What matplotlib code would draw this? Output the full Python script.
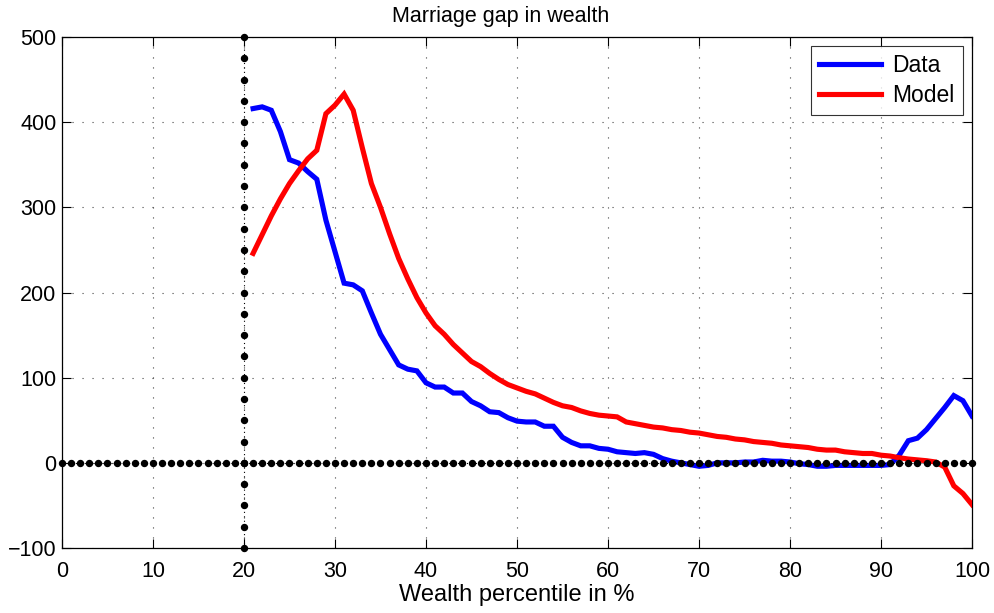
import numpy as np
import matplotlib
matplotlib.use("Agg")
import matplotlib.pyplot as plt

# wealth percentiles (21..100)
percentile = list(range(21, 101))

# marriage gap in wealth, data
gap_data = [
    416, 418, 414, 389, 356, 352, 342, 333, 285, 248,    # 21-30
    211, 209, 202, 176, 151, 133, 115, 110, 108, 94,     # 31-40
    89, 89, 82, 82, 72, 67, 60, 59, 53, 49,              # 41-50
    48, 48, 43, 43, 30, 24, 20, 20, 17, 16,              # 51-60
    13, 12, 11, 12, 10, 5, 2, 0, -2, -4,                 # 61-70
    -3, 0, 0, 0, 1, 1, 3, 2, 2, 1,                       # 71-80
    -1, -2, -4, -4, -3, -3, -3, -3, -3, -3,              # 81-90
    -2, 9, 26, 29, 39, 52, 65, 79, 73, 55,               # 91-100
]

# marriage gap in wealth, model
gap_model = [
    246, 268, 290, 310, 328, 343, 357, 367, 410, 420,    # 21-30
    433, 414, 370, 328, 300, 269, 240, 216, 194, 176,    # 31-40
    161, 151, 139, 129, 119, 113, 105, 98, 92, 88,       # 41-50
    84, 81, 76, 71, 67, 65, 61, 58, 56, 55,              # 51-60
    54, 48, 46, 44, 42, 41, 39, 38, 36, 35,              # 61-70
    33, 31, 30, 28, 27, 25, 24, 23, 21, 20,              # 71-80
    19, 18, 16, 15, 15, 13, 12, 11, 11, 9,               # 81-90
    8, 6, 4.5, 3.5, 2.5, 1, -5, -27, -36, -49,          # 91-100
]

x_ticks = list(range(0, 101, 10))
y_ticks = list(range(-100, 501, 100))

plt.rcParams["font.family"] = ["Liberation Sans", "DejaVu Sans"]

fig = plt.figure(figsize=(9.95, 6.13), dpi=100)
ax = fig.add_axes([0.0623, 0.106, 0.9146, 0.8336])

ax.set_xlim(0, 100)
ax.set_ylim(-100, 500)
ax.set_xticks(x_ticks)
ax.set_yticks(y_ticks)
ax.set_yticklabels([str(v).replace("-", "\u2212") for v in y_ticks])
ax.tick_params(direction="in", length=6.5, width=0.8, top=True, right=True,
               labelsize=15.5)
ax.tick_params(axis="x", pad=9)
ax.tick_params(axis="y", pad=4)
for s in ax.spines.values():
    s.set_linewidth(0.9)

ax.grid(True, color="#444444", linestyle=(0, (1, 8)), linewidth=0.8)
ax.set_axisbelow(True)

# reference lines (dotted with dots)
ref_x = np.arange(0, 101, 1)
ax.plot(ref_x, np.zeros_like(ref_x), color="black", linestyle=(0, (1, 3)),
        linewidth=0.8, marker="o", markersize=4.3, zorder=4, clip_on=False)
ref_y = np.arange(-100, 501, 25)
ax.plot(np.full_like(ref_y, 20), ref_y, color="black", linestyle=(0, (1, 3)),
        linewidth=0.8, marker="o", markersize=4.3, zorder=4, clip_on=False)

ax.plot(percentile, gap_data, color="#0000ff", linewidth=3.7, label="Data",
        zorder=3, solid_joinstyle="miter")
ax.plot(percentile, gap_model, color="#ff0000", linewidth=3.7, label="Model",
        zorder=3, solid_joinstyle="miter")

ax.set_title("Marriage gap in wealth", fontsize=15.5, pad=11, x=0.482)
ax.set_xlabel("Wealth percentile in %", fontsize=17, labelpad=2)

leg = ax.legend(loc="upper right", fontsize=16.5, frameon=True, fancybox=False,
                handlelength=2.7, borderaxespad=0.4, borderpad=0.35,
                labelspacing=0.3, handletextpad=0.5)
leg.get_frame().set_edgecolor("black")
leg.get_frame().set_linewidth(0.8)

fig.savefig("out.png", dpi=100)
